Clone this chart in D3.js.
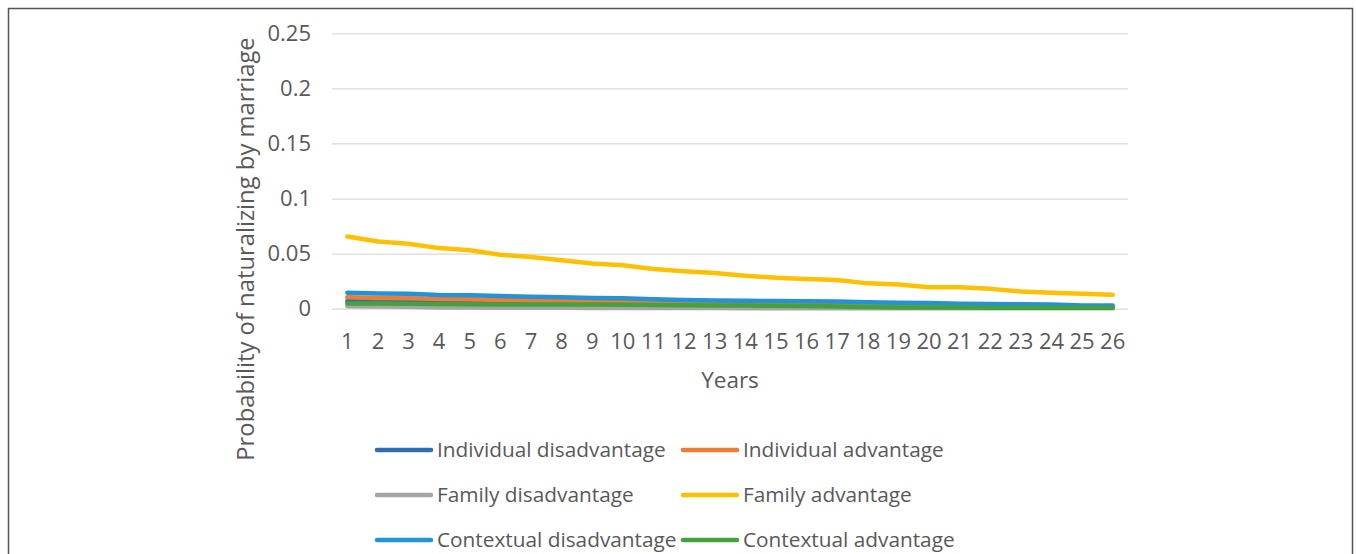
<!DOCTYPE html>
<html>
<head>
<meta charset="utf-8">
<script src="https://cdn.jsdelivr.net/npm/d3@7"></script>
<style>
  html, body { margin: 0; padding: 0; background: #fff; }
  svg { display: block; }
  text { font-family: "Open Sans", sans-serif; fill: #595959; }
</style>
</head>
<body>
<svg id="chart" width="1356" height="554"></svg>
<script>
const years = d3.range(1, 27).map(String);
const yTicks = [0, 0.05, 0.1, 0.15, 0.2, 0.25];
const yTickLabels = ["0", "0.05", "0.1", "0.15", "0.2", "0.25"];

const seriesNames = [
  "Individual disadvantage", "Individual advantage",
  "Family disadvantage", "Family advantage",
  "Contextual disadvantage", "Contextual advantage"
];
const seriesColors = ["#2E6DB4", "#F07B35", "#A5A5A5", "#FFC000", "#2393D6", "#43A23C"];

const individualDisadvantage = [0.0068, 0.0065, 0.0062, 0.0058, 0.0055, 0.0052, 0.005, 0.0047, 0.0045, 0.0042, 0.0038, 0.0036, 0.0034, 0.0032, 0.003, 0.0028, 0.0026, 0.0024, 0.0022, 0.002, 0.0018, 0.0017, 0.0016, 0.0014, 0.0013, 0.0012];
const individualAdvantage = [0.0103, 0.0098, 0.0095, 0.0088, 0.0085, 0.008, 0.0075, 0.007, 0.0067, 0.0062, 0.0055, 0.005, 0.0047, 0.0044, 0.004, 0.0038, 0.0035, 0.003, 0.0028, 0.0025, 0.0022, 0.002, 0.0018, 0.0016, 0.0014, 0.0012];
const familyDisadvantage = [0.0022, 0.002, 0.0018, 0.0012, 0.001, 0.0009, 0.0008, 0.0008, 0.0007, 0.0007, 0.0006, 0.0006, 0.0006, 0.0005, 0.0005, 0.0005, 0.0005, 0.0004, 0.0004, 0.0004, 0.0004, 0.0004, 0.0004, 0.0004, 0.0004, 0.0004];
const familyAdvantage = [0.0655, 0.061, 0.059, 0.055, 0.053, 0.049, 0.047, 0.044, 0.041, 0.0395, 0.036, 0.034, 0.0325, 0.030, 0.028, 0.027, 0.026, 0.023, 0.022, 0.0195, 0.0195, 0.018, 0.0157, 0.0145, 0.0136, 0.0127];
const contextualDisadvantage = [0.0145, 0.0138, 0.0135, 0.0125, 0.0122, 0.0115, 0.0108, 0.0105, 0.0098, 0.0095, 0.0085, 0.008, 0.0075, 0.0072, 0.007, 0.0068, 0.0066, 0.0058, 0.0055, 0.0052, 0.0045, 0.0042, 0.004, 0.0038, 0.003, 0.0028];
const contextualAdvantage = [0.0048, 0.0047, 0.0045, 0.0042, 0.004, 0.0039, 0.0038, 0.0037, 0.0037, 0.0036, 0.0033, 0.0032, 0.003, 0.0028, 0.0026, 0.0024, 0.002, 0.0015, 0.0012, 0.001, 0.001, 0.0009, 0.0009, 0.0008, 0.0008, 0.0008];

const seriesValues = [individualDisadvantage, individualAdvantage, familyDisadvantage,
  familyAdvantage, contextualDisadvantage, contextualAdvantage];

const svg = d3.select("#chart");

// outer frame
svg.append("rect")
  .attr("x", 8.5).attr("y", 8.5).attr("width", 1344).attr("height", 560)
  .attr("fill", "none").attr("stroke", "#555").attr("stroke-width", 1.5);

const plot = { left: 332, right: 1128, top: 33.3, bottom: 308.7 };

const x = d3.scaleBand().domain(years).range([plot.left, plot.right]);
const y = d3.scaleLinear().domain([0, 0.25]).range([plot.bottom, plot.top]);

// gridlines + y labels
const yAxis = d3.axisLeft(y).tickValues(yTicks)
  .tickSize(-(plot.right - plot.left))
  .tickFormat((d, i) => yTickLabels[i]).tickPadding(21);
const gy = svg.append("g").attr("transform", `translate(${plot.left},0)`).call(yAxis);
gy.select(".domain").remove();
gy.selectAll(".tick line").attr("stroke", "#D9D9D9").attr("stroke-width", 1.2);
gy.selectAll(".tick text").style("font-size", "22px").attr("fill", "#595959")
  .attr("font-family", "Open Sans, sans-serif");

// x axis labels
const xAxis = d3.axisBottom(x).tickSize(0).tickPadding(25);
const gx = svg.append("g").attr("transform", `translate(0,${plot.bottom})`).call(xAxis);
gx.select(".domain").remove();
gx.selectAll(".tick text").style("font-size", "22px").attr("fill", "#595959")
  .attr("font-family", "Open Sans, sans-serif");

// lines
const line = d3.line()
  .x((d, i) => x(years[i]) + x.bandwidth() / 2)
  .y(d => y(d));

seriesValues.forEach((vals, k) => {
  svg.append("path")
    .datum(vals)
    .attr("d", line)
    .attr("fill", "none")
    .attr("stroke", seriesColors[k])
    .attr("stroke-width", 4.5)
    .attr("stroke-linejoin", "round")
    .attr("stroke-linecap", "round");
});

// axis titles
svg.append("text")
  .attr("x", 730).attr("y", 388)
  .attr("text-anchor", "middle")
  .style("font-size", "22.5px")
  .text("Years");

svg.append("text")
  .attr("transform", "translate(254,249) rotate(-90)")
  .attr("text-anchor", "middle")
  .style("font-size", "23.8px")
  .text("Probability of naturalizing by marriage");

// legend
const legendCols = [377, 683];
const legendRows = [450, 495, 540];
seriesNames.forEach((name, k) => {
  const lx = legendCols[k % 2];
  const ly = legendRows[Math.floor(k / 2)];
  const g = svg.append("g").attr("transform", `translate(${lx},${ly})`);
  g.append("line").attr("x1", 0).attr("x2", 54).attr("y1", 0).attr("y2", 0)
    .attr("stroke", seriesColors[k]).attr("stroke-width", 4.5).attr("stroke-linecap", "round");
  g.append("text").attr("x", 60).attr("y", 0).attr("dy", "0.35em")
    .style("font-size", "20.8px").text(name);
});
</script>
</body>
</html>
